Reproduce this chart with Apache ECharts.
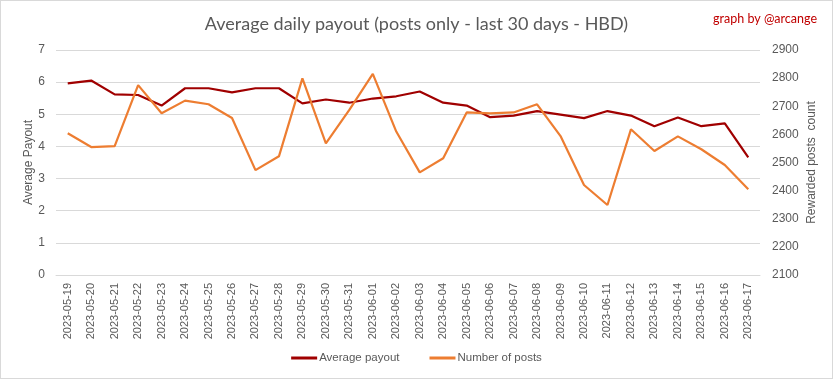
<!DOCTYPE html>
<html>
<head>
<meta charset="utf-8">
<script src="https://cdn.jsdelivr.net/npm/echarts@6/dist/echarts.min.js"></script>
<style>
html,body{margin:0;padding:0;background:#fff;}
#c{width:831px;height:377px;border:1px solid #d9d9d9;}
</style>
</head>
<body>
<div id="c"></div>
<script>
const dates = ["2023-05-19","2023-05-20","2023-05-21","2023-05-22","2023-05-23","2023-05-24","2023-05-25","2023-05-26","2023-05-27","2023-05-28","2023-05-29","2023-05-30","2023-05-31","2023-06-01","2023-06-02","2023-06-03","2023-06-04","2023-06-05","2023-06-06","2023-06-07","2023-06-08","2023-06-09","2023-06-10","2023-06-11","2023-06-12","2023-06-13","2023-06-14","2023-06-15","2023-06-16","2023-06-17"];
const avgPayout = [5.96,6.05,5.62,5.60,5.27,5.81,5.81,5.68,5.81,5.81,5.34,5.46,5.36,5.49,5.56,5.71,5.36,5.27,4.91,4.96,5.10,4.99,4.88,5.10,4.96,4.63,4.90,4.63,4.72,3.66];
const numPosts = [2604,2555,2558,2775,2675,2720,2707,2658,2473,2522,2799,2568,2687,2815,2610,2465,2515,2678,2675,2678,2707,2594,2420,2349,2618,2541,2593,2547,2491,2405];
const leftTicks = {min:0, max:7, interval:1};
const rightTicks = {min:2100, max:2900, interval:100};

const chart = echarts.init(document.getElementById('c'));
const txt = '#595959';
chart.setOption({
  animation:false,
  backgroundColor:'#fff',
  title:[{
    text:'Average daily payout (posts only - last 30 days - HBD)',
    left:'center', top:9,
    textStyle:{fontFamily:'Lato', fontSize:18, fontWeight:'normal', color:txt}
  },{
    text:'graph by @arcange',
    right:10, top:6,
    textStyle:{fontFamily:'Lato', fontSize:12.5, fontWeight:'normal', color:'#c00000'}
  }],
  legend:{
    bottom:9, left:'center',
    itemWidth:26, itemHeight:3, itemGap:30,
    icon:'rect',
    textStyle:{fontFamily:'Liberation Sans', fontSize:11.5, color:txt, padding:[0,0,0,-3]},
    data:['Average payout','Number of posts']
  },
  grid:{left:55, right:72, top:49, bottom:103, containLabel:false},
  xAxis:{
    type:'category', data:dates, boundaryGap:true,
    axisLine:{show:true, lineStyle:{color:'#d9d9d9'}},
    axisTick:{show:false},
    axisLabel:{rotate:90, color:txt, fontFamily:'Liberation Sans', fontSize:11, margin:8, interval:0}
  },
  yAxis:[{
    type:'value', min:leftTicks.min, max:leftTicks.max, interval:leftTicks.interval,
    name:'Average Payout', nameLocation:'middle', nameGap:21, nameRotate:90, nameMoveOverlap:false,
    nameTextStyle:{color:txt, fontFamily:'Liberation Sans', fontSize:12},
    axisLine:{show:false}, axisTick:{show:false},
    axisLabel:{color:txt, fontFamily:'Liberation Sans', fontSize:12, margin:11},
    splitLine:{lineStyle:{color:'#d9d9d9'}}
  },{
    type:'value', min:rightTicks.min, max:rightTicks.max, interval:rightTicks.interval,
    name:'Rewarded posts  count', nameLocation:'middle', nameGap:46, nameRotate:90, nameMoveOverlap:false,
    nameTextStyle:{color:txt, fontFamily:'Liberation Sans', fontSize:12},
    axisLine:{show:false}, axisTick:{show:false},
    axisLabel:{color:txt, fontFamily:'Liberation Sans', fontSize:12, margin:12, formatter:function(v){return String(v);}},
    splitLine:{show:false}
  }],
  series:[{
    name:'Average payout', type:'line', data:avgPayout, yAxisIndex:0,
    showSymbol:false, symbol:'none',
    lineStyle:{color:'#a00000', width:2.2}, itemStyle:{color:'#a00000'}
  },{
    name:'Number of posts', type:'line', data:numPosts, yAxisIndex:1,
    showSymbol:false, symbol:'none',
    lineStyle:{color:'#ed7d31', width:2.2}, itemStyle:{color:'#ed7d31'}
  }]
});
</script>
</body>
</html>
